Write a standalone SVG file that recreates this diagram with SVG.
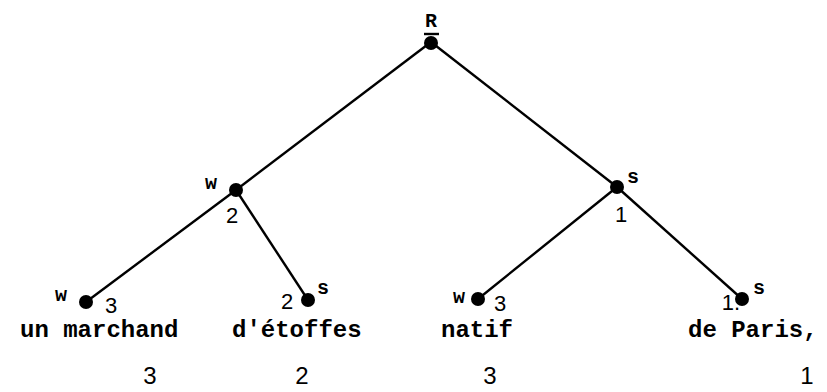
<svg xmlns="http://www.w3.org/2000/svg" width="827" height="392" viewBox="0 0 827 392">
<style>
.e{stroke:#000;stroke-width:2.4;fill:none}
.n{fill:#000}
.t{font-family:"Liberation Mono",monospace;font-weight:bold;fill:#000}
.w{font-size:24px}
.l{font-size:20px}
.d{font-family:"Liberation Sans",sans-serif;font-size:22px;fill:#000}
.b{font-family:"Liberation Sans",sans-serif;font-size:24px;fill:#000}
</style>
<rect width="827" height="392" fill="#fff"/>
<g id="connectors">
<line class="e" x1="431" y1="42" x2="236" y2="190"/>
<line class="e" x1="431" y1="42" x2="617" y2="187"/>
<line class="e" x1="236" y1="190" x2="86" y2="302"/>
<line class="e" x1="236" y1="190" x2="308" y2="300"/>
<line class="e" x1="617" y1="187" x2="478" y2="299"/>
<line class="e" x1="617" y1="187" x2="742" y2="299"/>
</g>
<g id="root">
<circle class="n" cx="431" cy="43" r="7"/>
<line class="e" x1="424" y1="34" x2="439" y2="34"/>
<text class="t l" x="431" y="27" text-anchor="middle">R</text>
</g>
<g id="w1">
<circle class="n" cx="236" cy="190" r="7"/>
<text class="t l" x="211" y="189" text-anchor="middle">w</text>
<text class="d" x="232" y="223" text-anchor="middle">2</text>
</g>
<g id="s1">
<circle class="n" cx="617" cy="187" r="7"/>
<text class="t l" x="633" y="183" text-anchor="middle">s</text>
<text class="d" x="621" y="222" text-anchor="middle">1</text>
</g>
<g id="leaf1">
<circle class="n" cx="86" cy="302" r="7"/>
<text class="t l" x="61" y="301" text-anchor="middle">w</text>
<text class="d" x="111" y="313" text-anchor="middle">3</text>
<text class="t w" x="20" y="337">un marchand</text>
<text class="b" x="150" y="384" text-anchor="middle">3</text>
</g>
<g id="leaf2">
<circle class="n" cx="308" cy="300" r="7"/>
<text class="d" x="287" y="309" text-anchor="middle">2</text>
<text class="t l" x="323" y="294" text-anchor="middle">s</text>
<text class="t w" x="232" y="337">d'étoffes</text>
<text class="b" x="302" y="384" text-anchor="middle">2</text>
</g>
<g id="leaf3">
<circle class="n" cx="478" cy="299" r="7"/>
<text class="t l" x="459" y="303" text-anchor="middle">w</text>
<text class="d" x="500" y="311" text-anchor="middle">3</text>
<text class="t w" x="441" y="337">natif</text>
<text class="b" x="490" y="384" text-anchor="middle">3</text>
</g>
<g id="leaf4">
<circle class="n" cx="742" cy="299" r="7"/>
<text class="d" x="731" y="310" text-anchor="middle">1.</text>
<text class="t l" x="759" y="294" text-anchor="middle">s</text>
<text class="t w" x="688" y="337">de Paris,</text>
<text class="b" x="807" y="384" text-anchor="middle">1</text>
</g>
</svg>
